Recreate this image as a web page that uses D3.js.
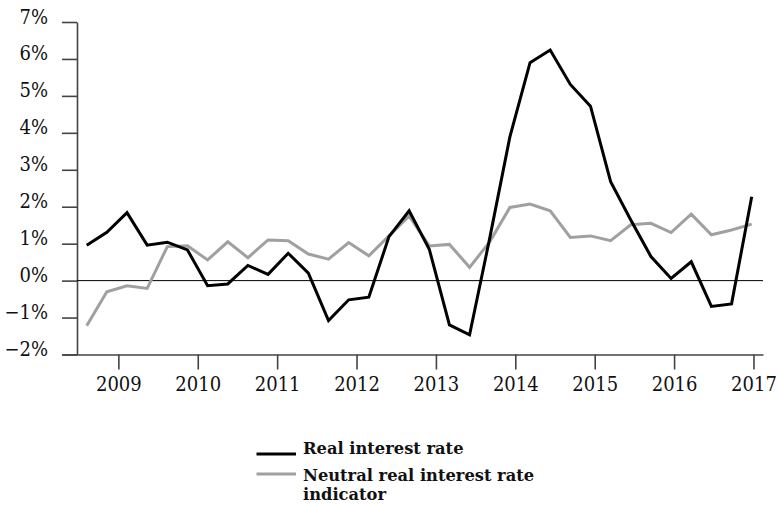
<!DOCTYPE html>
<html>
<head>
<meta charset="utf-8">
<script src="https://cdn.jsdelivr.net/npm/d3@7"></script>
<style>
  body { margin: 0; background: #fff; }
  svg { display: block; }
  text { font-family: "DejaVu Serif Condensed", "DejaVu Serif", serif; font-stretch: condensed; }
  text.legend { font-family: "DejaVu Serif", serif; font-stretch: normal; }
</style>
</head>
<body>
<svg id="chart" width="778" height="505"></svg>
<script>
const quarters = ["2008Q3","2008Q4","2009Q1","2009Q2","2009Q3","2009Q4","2010Q1","2010Q2","2010Q3","2010Q4",
  "2011Q1","2011Q2","2011Q3","2011Q4","2012Q1","2012Q2","2012Q3","2012Q4","2013Q1","2013Q2",
  "2013Q3","2013Q4","2014Q1","2014Q2","2014Q3","2014Q4","2015Q1","2015Q2","2015Q3","2015Q4",
  "2016Q1","2016Q2","2016Q3","2016Q4"];
const realRate = [0.96,1.31,1.84,0.96,1.04,0.83,-0.14,-0.09,0.41,0.17,
  0.74,0.20,-1.08,-0.52,-0.45,1.19,1.89,0.85,-1.20,-1.47,
  1.15,3.89,5.90,6.24,5.31,4.72,2.68,1.64,0.65,0.06,
  0.51,-0.70,-0.63,2.27];
const neutralRate = [-1.22,-0.30,-0.14,-0.21,0.92,0.94,0.56,1.05,0.62,1.10,
  1.08,0.72,0.58,1.03,0.67,1.21,1.75,0.94,0.98,0.36,
  1.05,1.98,2.07,1.89,1.17,1.21,1.08,1.51,1.55,1.30,
  1.80,1.24,1.37,1.53];
const yearTicks = [2009,2010,2011,2012,2013,2014,2015,2016,2017];
const pctTicks = [-2,-1,0,1,2,3,4,5,6,7];
const seriesNames = ["Real interest rate", "Neutral real interest rate indicator"];
const seriesColors = ["#000000", "#a0a0a0"];

const svg = d3.select("#chart");
const axisColor = "#444";

const xPoint = d3.scalePoint().domain(quarters).range([86.7, 751.7]);
const xYear = d3.scaleLinear().domain([2008.29, 2017.12]).range([62, 763]);
const y = d3.scaleLinear().domain([-2, 7]).range([354.5, 22]);

// Y axis
const yAxis = svg.append("g").attr("transform", "translate(77,0)")
  .call(d3.axisLeft(y).tickValues(pctTicks).tickSize(15).tickSizeOuter(0).tickPadding(14)
    .tickFormat(d => (d < 0 ? "\u2212" + Math.abs(d) : d) + "%"));
yAxis.select(".domain").attr("stroke", axisColor).attr("stroke-width", 1.6);
yAxis.selectAll(".tick line").attr("stroke", axisColor).attr("stroke-width", 1.6);
yAxis.selectAll(".tick text").attr("font-size", 20).attr("fill", "#111").attr("dy", "0.05em");

// X axis
const xAxis = svg.append("g").attr("transform", "translate(0,354.5)")
  .call(d3.axisBottom(xYear).tickValues(yearTicks).tickSize(15).tickSizeOuter(0).tickPadding(7)
    .tickFormat(d3.format("d")));
xAxis.select(".domain").attr("stroke", axisColor).attr("stroke-width", 1.6);
xAxis.selectAll(".tick line").attr("stroke", axisColor).attr("stroke-width", 1.6);
xAxis.selectAll(".tick text").attr("font-size", 20).attr("fill", "#111");
svg.selectAll(".tick text").attr("font-family", null);

// Zero line
svg.append("line")
  .attr("x1", 77).attr("x2", xYear.range()[1])
  .attr("y1", y(0)).attr("y2", y(0))
  .attr("stroke", "#000").attr("stroke-width", 1);

// Lines
const line = d3.line().x((d, i) => xPoint(quarters[i])).y(d => y(d));
[neutralRate, realRate].forEach((s, k) => {
  const idx = k === 0 ? 1 : 0;
  svg.append("path").datum(s)
    .attr("d", line)
    .attr("fill", "none")
    .attr("stroke", seriesColors[idx])
    .attr("stroke-width", 3)
    .attr("stroke-linejoin", "miter");
});

// Legend
const legend = svg.append("g");
const legendRows = [
  { color: seriesColors[0], ly: 454, ty: 454, lines: ["Real interest rate"] },
  { color: seriesColors[1], ly: 474, ty: 481, lines: ["Neutral real interest rate", "indicator"] }
];
legendRows.forEach(r => {
  legend.append("line").attr("x1", 256.5).attr("x2", 296).attr("y1", r.ly).attr("y2", r.ly)
    .attr("stroke", r.color).attr("stroke-width", 3);
  r.lines.forEach((t, j) => {
    legend.append("text").attr("class", "legend").attr("x", 303).attr("y", r.ty + j * 18.5)
      .attr("font-size", 16.3).attr("font-weight", "bold").attr("fill", "#111").text(t);
  });
});
</script>
</body>
</html>
